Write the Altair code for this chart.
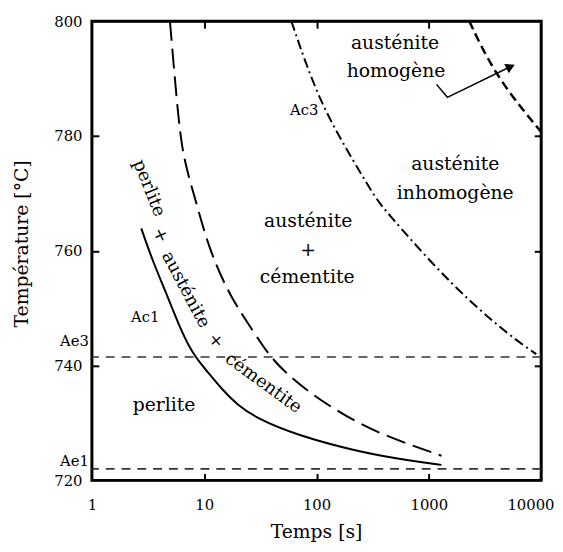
import altair as alt
import pandas as pd

# ---- data ----
ac1_t = [2.75, 3.51, 4.47, 5.94, 7.88, 10.7, 14.5, 19.6, 29.4, 66, 256, 705, 1295]
ac1_T = [763.9, 758.0, 753.2, 747.0, 742.0, 738.9, 735.8, 733.2, 730.8, 727.9, 724.8, 723.4, 722.7]

acm_t = [4.95, 5.37, 5.82, 6.31, 7.13, 8.21, 11.1, 17.0, 27.7, 37.5, 53.9, 93.2, 181.7, 384, 1295]
acm_T = [800.0, 791.9, 784.2, 778.15, 773.5, 769.4, 760.1, 752.0, 745.8, 741.85, 738.6, 734.8, 731.2, 727.9, 724.3]

ac3_t = [59.7, 105.2, 222.5, 333.6, 434, 1057, 2376, 5339, 9036]
ac3_T = [800.0, 785.9, 775.05, 769.2, 766.45, 757.85, 750.97, 745.1, 742.0]

hom_t = [2290, 3800, 7960, 10000]
hom_T = [800.0, 791.0, 783.0, 780.7]

arrow_t = [1170, 1462, 5339]
arrow_T = [789.0, 786.75, 792.1]
head_t = [5339]
head_T = [792.1]

ae_names = ["Ae3", "Ae1"]
ae_T = [741.5, 722.0]
ae_label_T = [744.3, 723.4]

region_text = ["austénite", "homogène", "austénite", "inhomogène",
               "austénite", "+", "cémentite", "perlite"]
region_t = [500, 510, 1718, 1718, 84.2, 84.2, 82.5, 4.38]
region_T = [796.2, 791.4, 775.1, 770.1, 765.2, 760.1, 755.4, 733.1]

small_text = ["Ac3", "Ac1"]
small_t = [77.6, 2.98]
small_T = [784.5, 748.4]

curved_text = ["perlite", "+", "austénite", "+", "cémentite"]
curved_t = [3.2, 4.04, 6.8, 12.6, 33.5]
curved_T = [770.9, 762.7, 753.2, 744.3, 736.9]
curved_angle = [68, 65, 62, 50, 36]

x_domain = [1, 10000]
y_domain = [720, 800]
x_ticks = [1, 10, 100, 1000, 10000]
y_ticks = [720, 740, 760, 780, 800]
inner_x_ticks = [10, 100, 1000]
inner_y_ticks = [740, 760, 780]

frame_x = [1, 1, 10000, 10000, 1]
frame_y = [720, 800, 800, 720, 720]

FONT = "DejaVu Serif"


def xs():
    return alt.Scale(type="log", domain=x_domain)


def ys():
    return alt.Scale(domain=y_domain)


def curve(t, T, dash, width, interp="basis", clip=True):
    df = pd.DataFrame({"t": t, "T": T, "o": list(range(len(t)))})
    kw = dict(color="black", strokeWidth=width, clip=clip, interpolate=interp)
    if dash:
        kw["strokeDash"] = dash
    return alt.Chart(df).mark_line(**kw).encode(
        x=alt.X("t:Q", scale=xs(), axis=None),
        y=alt.Y("T:Q", scale=ys(), axis=None),
        order="o:Q",
    )


def tick_axis(orient, values):
    return alt.Axis(
        orient=orient, values=values, labels=False, grid=False, title=None, domain=False,
        ticks=True, tickSize=7, tickWidth=2, tickColor="black", offset=-7)


layers = []

# frame box along the axis domain
layers.append(
    alt.Chart(pd.DataFrame({"t": frame_x, "T": frame_y, "o": list(range(5))}))
    .mark_line(color="black", strokeWidth=3, clip=False, strokeJoin="miter", strokeCap="square")
    .encode(
        x=alt.X("t:Q", scale=xs(), axis=None),
        y=alt.Y("T:Q", scale=ys(), axis=None),
        order="o:Q",
    )
)

# main axes (labels + titles)
axis_df = pd.DataFrame({"t": [10], "T": [760]})
layers.append(
    alt.Chart(axis_df).mark_point(opacity=0).encode(
        x=alt.X("t:Q", scale=xs(), axis=alt.Axis(
            orient="bottom", values=x_ticks, format="d", ticks=False, domain=False, grid=False,
            labelFont=FONT, labelFontSize=15, labelColor="black", labelPadding=18,
            labelFlush=False,
            labelAlign=alt.expr("datum.value == 10000 ? 'right' : 'center'"),
            labelOffset=alt.expr("datum.value == 10000 ? 13 : 0"),
            title="Temps [s]", titleFont=FONT, titleFontSize=19, titleFontWeight="normal",
            titleColor="black", titleX=227, titleY=52, titleBaseline="middle", titleAlign="center")),
        y=alt.Y("T:Q", scale=ys(), axis=alt.Axis(
            orient="left", values=y_ticks, ticks=False, domain=False, grid=False,
            labelFont=FONT, labelFontSize=15, labelColor="black", labelPadding=10,
            labelFlush=False,
            title="Température [°C]", titleFont=FONT, titleFontSize=19, titleFontWeight="normal",
            titleColor="black", titleX=-71, titleY=225, titleBaseline="middle", titleAlign="center",
            titleAngle=270)),
    )
)
# inward ticks bottom/left
layers.append(
    alt.Chart(axis_df).mark_point(opacity=0).encode(
        x=alt.X("t:Q", scale=xs(), axis=tick_axis("bottom", inner_x_ticks)),
        y=alt.Y("T:Q", scale=ys(), axis=tick_axis("left", inner_y_ticks)),
    )
)
# inward ticks top/right
layers.append(
    alt.Chart(axis_df).mark_point(opacity=0).encode(
        x=alt.X("t:Q", scale=xs(), axis=tick_axis("top", inner_x_ticks)),
        y=alt.Y("T:Q", scale=ys(), axis=tick_axis("right", inner_y_ticks)),
    )
)

# Ae lines
ae_df = pd.DataFrame({"name": ae_names, "T": ae_T, "lt": ae_label_T, "t": [1, 1]})
layers.append(
    alt.Chart(ae_df).mark_rule(color="#333333", strokeWidth=1.6, strokeDash=[9, 7]).encode(
        y=alt.Y("T:Q", scale=ys(), axis=None)
    )
)
layers.append(
    alt.Chart(ae_df).mark_text(font=FONT, fontSize=15, align="right", dx=-3, color="black").encode(
        x=alt.X("t:Q", scale=xs(), axis=None),
        y=alt.Y("lt:Q", scale=ys(), axis=None),
        text="name:N",
    )
)

# curves
layers.append(curve(ac1_t, ac1_T, None, 2))
layers.append(curve(acm_t, acm_T, [20, 8], 2))
layers.append(curve(ac3_t, ac3_T, [10, 4, 2, 4], 2))
layers.append(curve(hom_t, hom_T, [9, 5], 2.5))

# arrow
layers.append(curve(arrow_t, arrow_T, None, 1.5, interp="linear"))
head_df = pd.DataFrame({"t": head_t, "T": head_T})
layers.append(
    alt.Chart(head_df).mark_point(shape="triangle-right", filled=True, color="black", size=110,
                                  opacity=1, angle=334).encode(
        x=alt.X("t:Q", scale=xs(), axis=None),
        y=alt.Y("T:Q", scale=ys(), axis=None),
    )
)

# region labels
reg_df = pd.DataFrame({"txt": region_text, "t": region_t, "T": region_T})
layers.append(
    alt.Chart(reg_df).mark_text(font=FONT, fontSize=19, color="black", baseline="middle").encode(
        x=alt.X("t:Q", scale=xs(), axis=None),
        y=alt.Y("T:Q", scale=ys(), axis=None),
        text="txt:N",
    )
)
small_df = pd.DataFrame({"txt": small_text, "t": small_t, "T": small_T})
layers.append(
    alt.Chart(small_df).mark_text(font=FONT, fontSize=15, color="black", baseline="middle").encode(
        x=alt.X("t:Q", scale=xs(), axis=None),
        y=alt.Y("T:Q", scale=ys(), axis=None),
        text="txt:N",
    )
)
for txt, t, T, a in zip(curved_text, curved_t, curved_T, curved_angle):
    d = pd.DataFrame({"txt": [txt], "t": [t], "T": [T]})
    layers.append(
        alt.Chart(d).mark_text(font=FONT, fontSize=18, color="black", baseline="middle", angle=a).encode(
            x=alt.X("t:Q", scale=xs(), axis=None),
            y=alt.Y("T:Q", scale=ys(), axis=None),
            text="txt:N",
        )
    )

chart = alt.layer(*layers).resolve_scale(x="independent", y="independent").properties(
    width=455, height=465,
    autosize=alt.AutoSizeParams(type="none"),
    padding={"left": 85, "top": 10, "right": 14, "bottom": 60},
).configure_view(stroke="black", strokeWidth=2)

chart.save("out.html", embed_options={"renderer": "svg", "actions": False})
